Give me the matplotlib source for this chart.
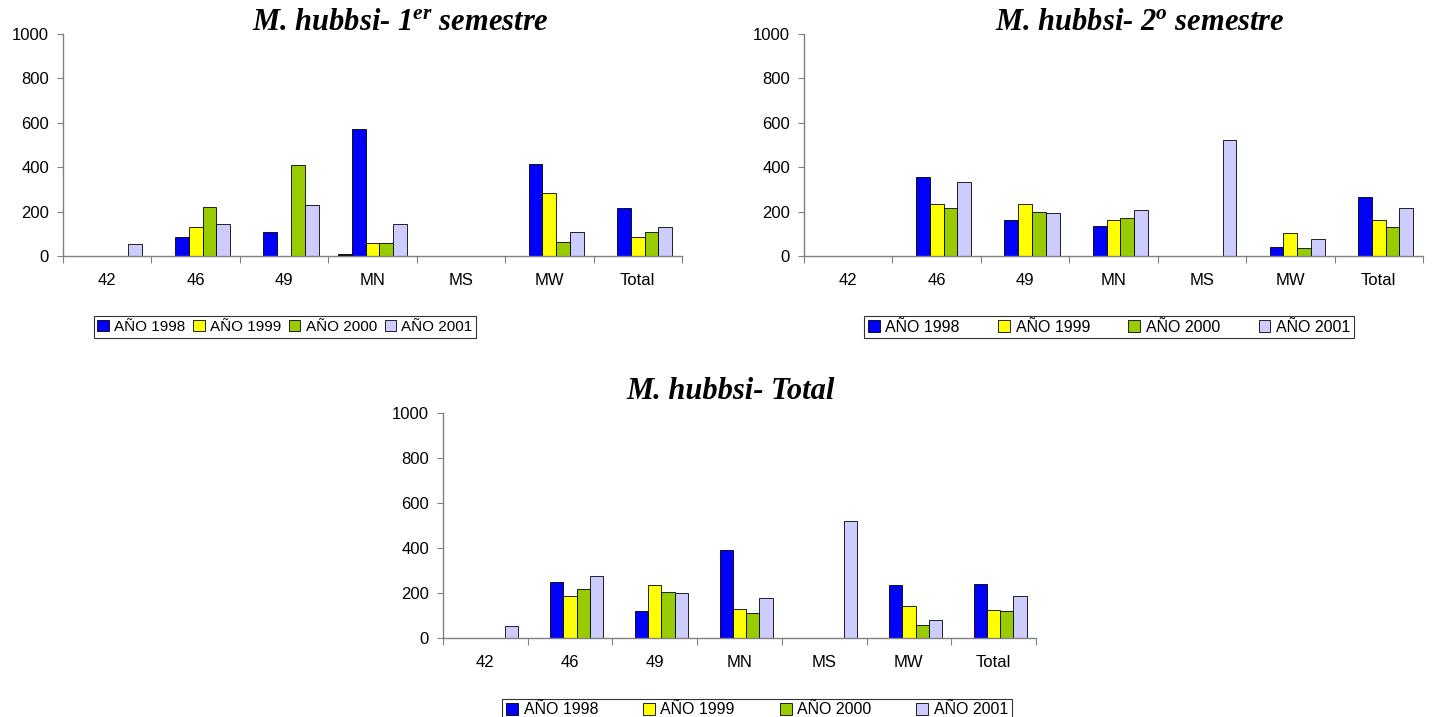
import matplotlib
matplotlib.use('Agg')
import matplotlib.pyplot as plt
import numpy as np

# Categories (zones) shown on the x axis
categories = ['42', '46', '49', 'MN', 'MS', 'MW', 'Total']
years = ['AÑO 1998', 'AÑO 1999', 'AÑO 2000', 'AÑO 2001']

# 1er semestre
sem1_extra = [0, 0, 0, 7, 0, 0, 0]   # unlabeled first series (only visible in MN)
sem1_1998 = [0, 86, 110, 572, 0, 414, 218]
sem1_1999 = [0, 131, 0, 58, 0, 282, 86]
sem1_2000 = [0, 221, 410, 58, 0, 65, 110]
sem1_2001 = [53, 143, 230, 143, 0, 110, 131]

# 2o semestre
sem2_extra = [0, 0, 0, 0, 0, 0, 0]
sem2_1998 = [0, 354, 164, 137, 0, 42, 264]
sem2_1999 = [0, 233, 233, 164, 0, 102, 164]
sem2_2000 = [0, 216, 198, 170, 0, 36, 131]
sem2_2001 = [0, 332, 192, 209, 521, 75, 215]

# Total
tot_extra = [0, 0, 0, 0, 0, 0, 0]
tot_1998 = [0, 248, 119, 393, 0, 235, 240]
tot_1999 = [0, 188, 234, 131, 0, 141, 125]
tot_2000 = [0, 218, 206, 113, 0, 60, 119]
tot_2001 = [54, 276, 200, 178, 522, 81, 188]

colors = ['#0000FF', '#FFFF00', '#99CC00', '#CCCCFF']
extra_color = '#000000'

W, H = 1434, 717

plt.rcParams['font.family'] = ['Liberation Sans', 'DejaVu Sans']
plt.rcParams['mathtext.fontset'] = 'custom'
plt.rcParams['mathtext.it'] = 'Liberation Serif:bold:italic'
plt.rcParams['mathtext.rm'] = 'Liberation Serif:bold:italic'


def px_rect(x0, x1, y_top, y_bot):
    """Convert pixel box to figure fraction rect."""
    return [x0 / W, 1 - y_bot / H, (x1 - x0) / W, (y_bot - y_top) / H]


def draw_chart(fig, rect, extra, series):
    ax = fig.add_axes(rect)
    x = np.arange(len(categories))
    w = 0.156
    offsets = [-2, -1, 0, 1, 2]
    ax.bar(x + offsets[0] * w, extra, w, color=extra_color,
           edgecolor='black', linewidth=0.6)
    handles = []
    for i, vals in enumerate(series):
        b = ax.bar(x + offsets[i + 1] * w, vals, w, color=colors[i],
                   edgecolor='black', linewidth=0.6, label=years[i])
        handles.append(b)
    ax.set_xlim(-0.5, len(categories) - 0.5)
    ax.set_ylim(0, 1000)
    ax.set_yticks(range(0, 1001, 200))
    ax.set_xticks(np.arange(-0.5, len(categories), 1.0))
    ax.set_xticklabels([])
    ax.set_xticks(x, minor=True)
    ax.set_xticklabels(categories, minor=True)
    ax.tick_params(axis='x', which='major', direction='out', length=5,
                   color='#808080')
    ax.tick_params(axis='x', which='minor', length=0, pad=12, labelsize=12)
    ax.tick_params(axis='y', direction='out', length=4, color='#808080',
                   labelsize=12, pad=6)
    for s in ['top', 'right']:
        ax.spines[s].set_visible(False)
    for s in ['left', 'bottom']:
        ax.spines[s].set_color('#808080')
        ax.spines[s].set_linewidth(1.0)
    return ax, handles


def add_legend(fig, handles, cx, cy, size, colspace):
    leg = fig.legend(handles, years, loc='center',
                     bbox_to_anchor=(cx / W, 1 - cy / H), ncol=4,
                     fontsize=size, frameon=True, fancybox=False,
                     handlelength=0.75, handleheight=0.75, handletextpad=0.35,
                     columnspacing=colspace, borderpad=0.25, borderaxespad=0)
    leg.get_frame().set_edgecolor('black')
    leg.get_frame().set_linewidth(0.8)


def main():
    fig = plt.figure(figsize=(W / 100, H / 100), dpi=100)

    ax1, h1 = draw_chart(fig, px_rect(63, 682, 34, 256), sem1_extra,
                         [sem1_1998, sem1_1999, sem1_2000, sem1_2001])
    ax2, h2 = draw_chart(fig, px_rect(804, 1423, 34, 256), sem2_extra,
                         [sem2_1998, sem2_1999, sem2_2000, sem2_2001])
    ax3, h3 = draw_chart(fig, px_rect(443, 1036, 413, 638), tot_extra,
                         [tot_1998, tot_1999, tot_2000, tot_2001])

    title_kw = dict(family='Liberation Serif', weight='bold', style='italic',
                    fontsize=22, ha='center', va='baseline')
    fig.text(400 / W, 1 - 30 / H, r'M. hubbsi- 1$^{er}$ semestre', **title_kw)
    fig.text(1140 / W, 1 - 30 / H, r'M. hubbsi- 2$^{o}$ semestre', **title_kw)
    fig.text(731 / W, 1 - 399 / H, 'M. hubbsi- Total', **title_kw)

    add_legend(fig, h1, 285, 327, 11, 0.5)
    add_legend(fig, h2, 1109, 327, 11.5, 2.4)
    add_legend(fig, h3, 757, 710, 11.5, 2.8)

    fig.savefig('out.png', dpi=100)
    plt.close(fig)


if __name__ == '__main__':
    main()
